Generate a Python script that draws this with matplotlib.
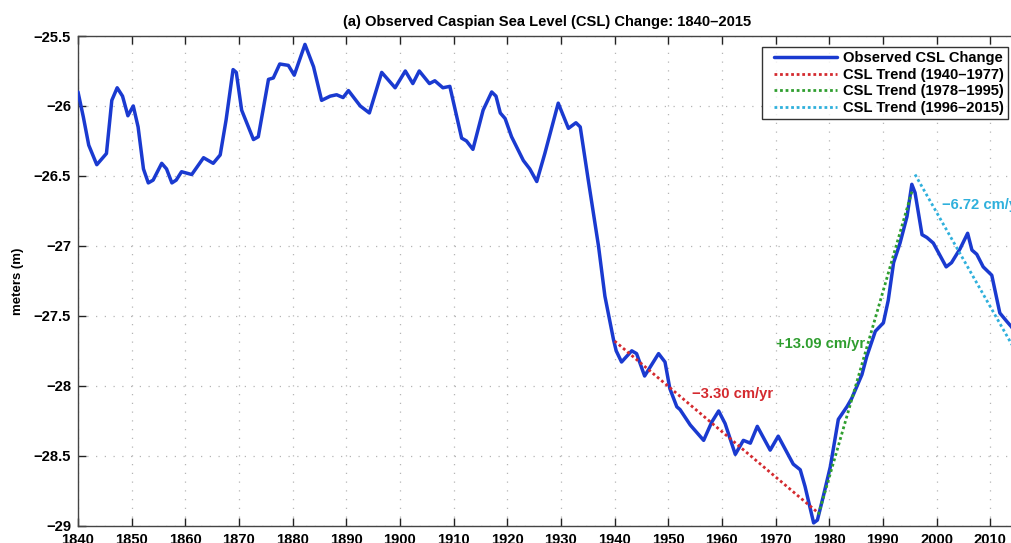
import matplotlib
matplotlib.use("Agg")
import matplotlib.pyplot as plt
from matplotlib.legend_handler import HandlerLine2D
from matplotlib.lines import Line2D

plt.rcParams['font.family'] = ['Liberation Sans', 'DejaVu Sans']
plt.rcParams['font.weight'] = 'bold'

# Observed Caspian Sea Level (m)
years = [1840.0, 1841.0, 1842.0, 1843.5, 1845.3, 1846.3, 1847.3, 1848.3, 1849.3, 1850.3,
         1851.2, 1852.2, 1853.1, 1854.0, 1855.6, 1856.5, 1857.5, 1858.3, 1859.3, 1861.2,
         1863.4, 1865.2, 1866.5, 1867.6, 1868.9, 1869.5, 1870.5, 1872.7, 1873.6, 1875.5,
         1876.4, 1877.6, 1879.2, 1880.3, 1882.3, 1883.9, 1885.4, 1887.0, 1888.2, 1889.4,
         1890.4, 1892.6, 1894.3, 1896.6, 1899.1, 1901.0, 1902.4, 1903.6, 1905.5, 1906.5,
         1908.0, 1909.3, 1911.5, 1912.4, 1913.6, 1915.5, 1917.1, 1917.9, 1918.7, 1919.6,
         1920.8, 1923.0, 1924.2, 1925.5, 1927.0, 1929.5, 1931.4, 1932.8, 1933.6, 1935.1,
         1937.0, 1938.2, 1939.8, 1940.3, 1941.3, 1943.2, 1944.1, 1945.6, 1948.2, 1949.4,
         1950.3, 1951.6, 1952.2, 1954.1, 1956.6, 1958.1, 1959.4, 1960.6, 1962.5, 1964.0,
         1965.3, 1966.6, 1969.0, 1970.5, 1973.3, 1974.6, 1975.5, 1977.1, 1977.8, 1978.9,
         1980.2, 1981.7, 1983.3, 1984.2, 1986.1, 1987.0, 1988.6, 1990.1, 1991.0, 1992.0,
         1993.2, 1994.5, 1995.4, 1996.0, 1997.3, 1998.2, 1999.4, 2001.8, 2002.8, 2004.4,
         2005.8, 2006.6, 2007.5, 2008.7, 2010.3, 2011.8, 2013.1, 2014.0, 2015.0]
csl = [-25.90, -26.08, -26.28, -26.42, -26.34, -25.96, -25.87, -25.93, -26.07, -26.00,
       -26.15, -26.45, -26.55, -26.53, -26.41, -26.45, -26.55, -26.53, -26.47, -26.49,
       -26.37, -26.41, -26.35, -26.10, -25.74, -25.76, -26.03, -26.24, -26.22, -25.81,
       -25.80, -25.70, -25.71, -25.78, -25.56, -25.72, -25.96, -25.93, -25.92, -25.94,
       -25.89, -26.00, -26.05, -25.76, -25.87, -25.75, -25.84, -25.75, -25.84, -25.82,
       -25.87, -25.86, -26.23, -26.25, -26.31, -26.03, -25.90, -25.93, -26.05, -26.09,
       -26.22, -26.39, -26.45, -26.54, -26.34, -25.98, -26.16, -26.12, -26.15, -26.53,
       -27.00, -27.36, -27.67, -27.75, -27.83, -27.75, -27.77, -27.93, -27.77, -27.83,
       -28.02, -28.15, -28.17, -28.28, -28.39, -28.26, -28.18, -28.27, -28.49, -28.39,
       -28.41, -28.29, -28.46, -28.36, -28.56, -28.60, -28.72, -28.98, -28.96, -28.79,
       -28.58, -28.24, -28.15, -28.09, -27.92, -27.79, -27.61, -27.55, -27.39, -27.12,
       -26.98, -26.79, -26.56, -26.62, -26.92, -26.94, -26.98, -27.15, -27.12, -27.02,
       -26.91, -27.03, -27.06, -27.15, -27.21, -27.48, -27.54, -27.58, -27.65]

# Trend line end points
trend1_years = [1940.0, 1978.0]
trend1_vals = [-27.68, -28.91]
trend2_years = [1978.0, 1995.5]
trend2_vals = [-28.92, -26.60]
trend3_years = [1996.0, 2015.0]
trend3_vals = [-26.49, -27.77]

xticks = list(range(1840, 2011, 10))
yticks = [-25.5, -26, -26.5, -27, -27.5, -28, -28.5, -29]
ytick_labels = ['\u221225.5', '\u221226', '\u221226.5', '\u221227', '\u221227.5',
                '\u221228', '\u221228.5', '\u221229']

blue = '#1a3ad0'
red = '#d42a2f'
green = '#2f9e2f'
cyan = '#2fb0dc'
FS = 10.6

fig = plt.figure(figsize=(10.11, 5.43), dpi=100)
W, H = 1011, 543
ax = fig.add_axes([78 / W, 1 - 525.7 / H, (1017 - 78) / W, (525.7 - 36) / H])

ax.plot(years, csl, color=blue, lw=2.5, solid_joinstyle='round', solid_capstyle='round',
        zorder=3, label='Observed CSL Change')
ax.plot(trend1_years, trend1_vals, color=red, lw=2.0, linestyle=(0, (1, 1)), zorder=4,
        label='CSL Trend (1940\u20131977)')
ax.plot(trend2_years, trend2_vals, color=green, lw=2.0, linestyle=(0, (1, 1)), zorder=4,
        label='CSL Trend (1978\u20131995)')
ax.plot(trend3_years, trend3_vals, color=cyan, lw=2.0, linestyle=(0, (1, 1)), zorder=4,
        label='CSL Trend (1996\u20132015)')

ax.text(1954.4, -28.06, '\u22123.30 cm/yr', color=red, fontsize=FS, fontweight='bold',
        va='center', ha='left')
ax.text(1970.1, -27.70, '+13.09 cm/yr', color=green, fontsize=FS, fontweight='bold',
        va='center', ha='left')
ax.text(2001.0, -26.71, '\u22126.72 cm/yr', color=cyan, fontsize=FS, fontweight='bold',
        va='center', ha='left')

ax.set_xlim(1840, 2015)
ax.set_ylim(-29, -25.5)
ax.set_xticks(xticks)
ax.set_xticklabels([str(x) for x in xticks])
ax.set_yticks(yticks)
ax.set_yticklabels(ytick_labels)
ax.tick_params(direction='in', length=6, width=1.0, labelsize=FS, top=True,
               right=False, color='#222222', pad=5)
for lab in ax.get_xticklabels() + ax.get_yticklabels():
    lab.set_fontweight('bold')
for s in ax.spines.values():
    s.set_color('#444444')
    s.set_linewidth(1.0)

ax.grid(True, color='#b5b5b5', linestyle=(0, (1, 6)), linewidth=0.9)
ax.set_axisbelow(True)

ax.set_title('(a) Observed Caspian Sea Level (CSL) Change: 1840\u20132015',
             fontsize=FS, fontweight='bold', pad=7)
ax.set_ylabel('meters (m)', fontsize=9.5, fontweight='bold', labelpad=7)

handles, labels = ax.get_legend_handles_labels()
leg = fig.legend(handles, labels, loc='upper left', bbox_to_anchor=(762 / W, 1 - 46.7 / H),
                 bbox_transform=fig.transFigure, frameon=True, fancybox=False,
                 edgecolor='black', fontsize=FS, handlelength=4.8, labelspacing=0.18,
                 borderpad=0.3, handletextpad=0.4, borderaxespad=0,
                 handler_map={Line2D: HandlerLine2D(xpad=0.52)})
leg.get_frame().set_linewidth(1.0)
for t in leg.get_texts():
    t.set_fontweight('bold')

fig.savefig('out.png', dpi=100)
